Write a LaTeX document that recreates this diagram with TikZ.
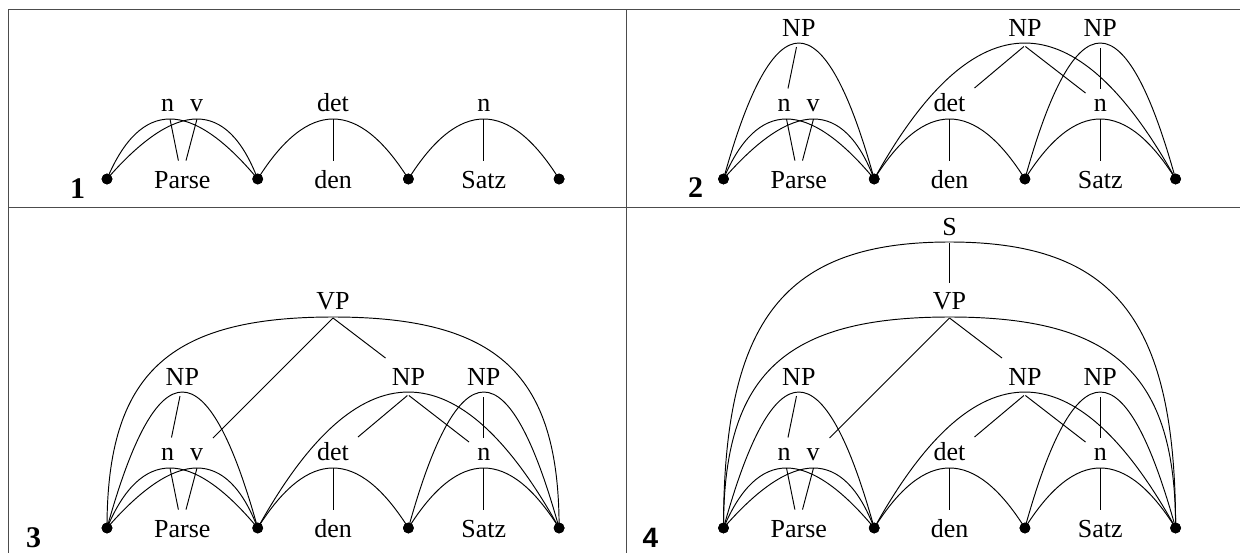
\documentclass[tikz,border=0pt]{standalone}
\usepackage{fontspec}
\setmainfont{Liberation Serif}
\newfontfamily\digitsans{Liberation Sans}
\tikzset{
  arcline/.style={line width=0.95pt, draw=black},
  treeline/.style={line width=0.95pt, draw=black},
  wordlbl/.style={anchor=base, inner sep=0pt, font=\fontsize{26}{30}\selectfont},
  catlbl/.style={anchor=base, inner sep=0pt, font=\fontsize{26}{30}\selectfont},
  dotnode/.style={circle, fill=black, inner sep=0pt, minimum size=10.8pt},
  framelinestyle/.style={line width=1.3pt, draw=black!70},
  numlbl/.style={anchor=base, inner sep=0pt, font=\fontsize{30}{34}\selectfont\bfseries}
}
\newcommand\drawpanel[4]{%
\begin{scope}[shift={(#2,#3)}]
  \def\ps{150.7}
  % dots
  \node[dotnode] (#1w0) at (0,0) {};
  \node[dotnode] (#1w1) at (\ps,0) {};
  \node[dotnode] (#1w2) at (2*\ps,0) {};
  \node[dotnode] (#1w3) at (3*\ps,0) {};
  % words
  \node[wordlbl] (#1parse) at (0.5*\ps,9) {Parse};
  \node[wordlbl] (#1den) at (1.5*\ps,9) {den};
  \node[wordlbl] (#1satz) at (2.5*\ps,9) {Satz};
  % lower categories
  \coordinate (#1an) at (63,-60);
  \coordinate (#1av) at (90,-60);
  \coordinate (#1adet) at (1.5*\ps,-60);
  \coordinate (#1asn) at (2.5*\ps,-60);
  \node[catlbl] (#1ln) at (60.5,-68) {n};
  \node[catlbl] (#1lv) at (89.5,-68) {v};
  \node[catlbl] (#1ldet) at (1.5*\ps,-68) {det};
  \node[catlbl] (#1lsn) at (2.5*\ps,-68) {n};
  \coordinate (#1en) at (71.4,-18.4);
  \coordinate (#1ev) at (79,-18.4);
  \coordinate (#1edet) at (1.5*\ps,-18);
  \coordinate (#1esn) at (2.5*\ps,-18);
  \draw[arcline] (#1w0.center) .. controls (33.77,-80) and (84.0,-80) .. (#1w1.center);
  \draw[arcline] (#1w0.center) .. controls (69.77,-80) and (120.0,-80) .. (#1w1.center);
  \draw[arcline] (#1w1.center) .. controls (\ps+\ps/3,-80) and (2*\ps-\ps/3,-80) .. (#1w2.center);
  \draw[arcline] (#1w2.center) .. controls (2*\ps+\ps/3,-80) and (3*\ps-\ps/3,-80) .. (#1w3.center);
  \draw[treeline] (#1an) -- (#1en);
  \draw[treeline] (#1av) -- (#1ev);
  \draw[treeline] (#1adet) -- (#1edet);
  \draw[treeline] (#1asn) -- (#1esn);
  \ifnum#4>1
    \coordinate (#1anpa) at (0.5*\ps,-136);
    \coordinate (#1anpb) at (2*\ps,-136);
    \coordinate (#1anpc) at (2.5*\ps,-136);
    \node[catlbl] (#1lnpa) at (0.5*\ps,-143) {NP};
    \node[catlbl] (#1lnpb) at (2*\ps,-143) {NP};
    \node[catlbl] (#1lnpc) at (2.5*\ps,-143) {NP};
    \draw[arcline] (#1w0.center) .. controls (\ps/3,-181.3) and (2*\ps/3,-181.3) .. (#1w1.center);
    \draw[arcline] (#1w1.center) .. controls (\ps+2*\ps/3,-181.3) and (3*\ps-2*\ps/3,-181.3) .. (#1w3.center);
    \draw[arcline] (#1w2.center) .. controls (2*\ps+\ps/3,-181.3) and (3*\ps-\ps/3,-181.3) .. (#1w3.center);
    \coordinate (#1snpa) at (73,-132);
    \coordinate (#1tnpa) at (64.5,-90.5);
    \coordinate (#1snpb) at (2*\ps-1,-132.5);
    \coordinate (#1tnpbdet) at (251,-91);
    \coordinate (#1snpbb) at (2*\ps+0.5,-132.5);
    \coordinate (#1tnpbn) at (362,-86);
    \coordinate (#1snpc) at (2.5*\ps,-131);
    \coordinate (#1tnpc) at (2.5*\ps,-90);
    \draw[treeline] (#1snpa) -- (#1tnpa);
    \draw[treeline] (#1snpb) -- (#1tnpbdet);
    \draw[treeline] (#1snpbb) -- (#1tnpbn);
    \draw[treeline] (#1snpc) -- (#1tnpc);
  \fi
  \ifnum#4>2
    \coordinate (#1avp) at (1.5*\ps,-211);
    \node[catlbl] (#1lvp) at (1.5*\ps,-219) {VP};
    \draw[arcline] (#1w0.center) .. controls (0,-154) and (61,-211) .. (#1avp)
       .. controls (3*\ps-61,-211) and (3*\ps,-154) .. (#1w3.center);
    \coordinate (#1svp) at (1.5*\ps,-210);
    \coordinate (#1tvpv) at (106,-90);
    \coordinate (#1tvpnp) at (278.5,-170);
    \draw[treeline] (#1svp) -- (#1tvpv);
    \draw[treeline] (#1svp) -- (#1tvpnp);
  \fi
  \ifnum#4>3
    \coordinate (#1as) at (1.5*\ps,-286);
    \node[catlbl] (#1ls) at (1.5*\ps,-293) {S};
    \draw[arcline] (#1w0.center) .. controls (0,-209) and (61,-286) .. (#1as)
       .. controls (3*\ps-61,-286) and (3*\ps,-209) .. (#1w3.center);
    \coordinate (#1ss) at (1.5*\ps,-285);
    \coordinate (#1ts) at (1.5*\ps,-245);
    \draw[treeline] (#1ss) -- (#1ts);
  \fi
  % redraw dots on top
  \fill (#1w0) circle (5.4pt);
  \fill (#1w1) circle (5.4pt);
  \fill (#1w2) circle (5.4pt);
  \fill (#1w3) circle (5.4pt);
\end{scope}}
\begin{document}
\begin{tikzpicture}[x=1pt,y=-1pt]
  \useasboundingbox (0,0) rectangle (1240,552);
  \clip (0,0) rectangle (1240,552);
  \fill[white] (0,0) rectangle (1240,552);
  % frame
  \draw[framelinestyle] (8.3,1000) -- (8.3,9.7) -- (1300,9.7);
  \draw[framelinestyle] (8.3,207.3) -- (1300,207.3);
  \draw[framelinestyle] (626.3,9.7) -- (626.3,1000);
  % panels
  \drawpanel{A}{107}{179}{1}
  \drawpanel{B}{723.5}{179}{2}
  \drawpanel{C}{107}{528}{3}
  \drawpanel{D}{723.5}{528}{4}
  % panel numbers
  \node[numlbl] (numA) at (77.7,198) {1};
  \node[numlbl] (numB) at (695.7,197) {2};
  \node[numlbl] (numC) at (33.6,547) {3};
  \node[numlbl, font=\fontsize{28}{32}\selectfont\digitsans\bfseries] (numD) at (650.5,547) {4};
\end{tikzpicture}
\end{document}
